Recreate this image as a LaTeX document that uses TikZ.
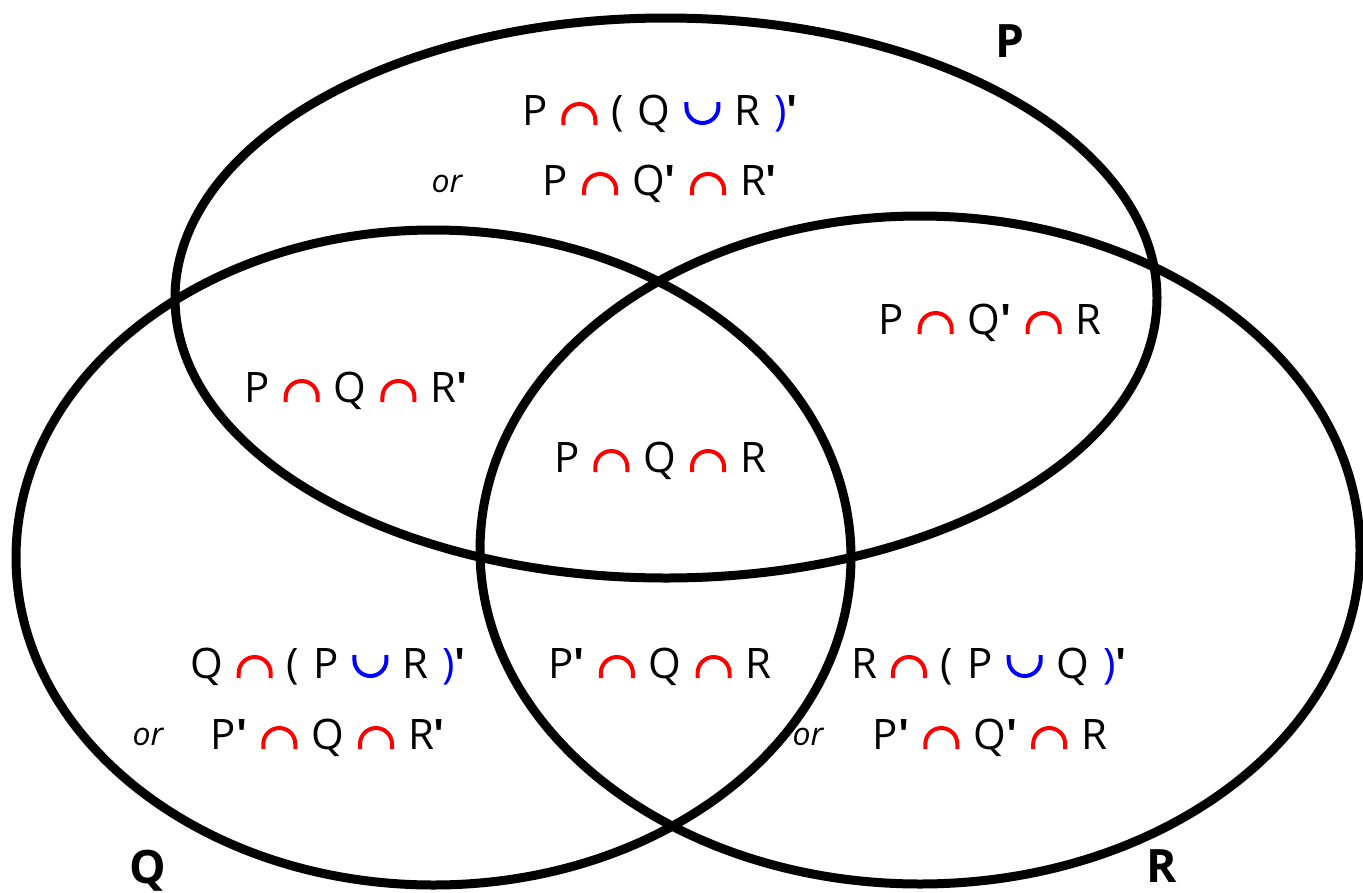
\documentclass[tikz,border=0pt]{standalone}
\usepackage{fontspec}
\setmainfont{Open Sans}
\newcommand\gp{\hspace{14pt}}
\newcommand\archsym[2]{\tikz[baseline=0pt,x=1pt,y=1pt]{\useasboundingbox (0,0) rectangle (36,23);\draw[line width=4pt,#1,line cap=butt] #2;}}
\newcommand\inter{\gp\archsym{red}{(2,0) -- (2,5) arc[start angle=180,end angle=0,radius=16] -- (34,0)}\gp}
\newcommand\unio{\gp\archsym{blue}{(2,23) -- (2,18) arc[start angle=180,end angle=360,radius=16] -- (34,23)}\gp}
\newcommand\rpar{\gp{\color{blue})}}
\newcommand\lpar{(\gp}
\newcommand\prm{\textbf{\textquotesingle}}
\begin{document}
\begin{tikzpicture}[x=1pt,y=-1pt,
  setline/.style={line width=9pt},
  lbl/.style={anchor=base,inner sep=0pt,font=\fontsize{42}{46}\selectfont},
  orlbl/.style={anchor=base,inner sep=0pt,font=\fontsize{32}{38}\selectfont\itshape},
  setname/.style={anchor=base,inner sep=0pt,font=\fontsize{46}{50}\selectfont\bfseries}]
\useasboundingbox (0,0) rectangle (1363,892);
\draw[setline] (666,298) ellipse [x radius=491, y radius=280];
\draw[setline] (433.5,557.5) ellipse [x radius=417.5, y radius=327.5];
\draw[setline] (920,550) ellipse [x radius=440, y radius=334];
\node[setname] (nP) at (1010,57) {P};
\node[setname] (nQ) at (148,883) {Q};
\node[setname] (nR) at (1162,882) {R};
\node[lbl] (a1) at (660,125) {P\inter\lpar Q\unio R\rpar\prm};
\node[orlbl] (o1) at (447,192) {or};
\node[lbl] (a2) at (660,195) {P\inter Q\prm\inter R\prm};
\node[lbl] (b) at (990,334) {P\inter Q\prm\inter R};
\node[lbl] (c) at (356,402) {P\inter Q\inter R\prm};
\node[lbl] (d) at (660,472) {P\inter Q\inter R};
\node[lbl] (e1) at (328,678) {Q\inter\lpar P\unio R\rpar\prm};
\node[orlbl] (o2) at (148,745) {or};
\node[lbl] (e2) at (328,749) {P\prm\inter Q\inter R\prm};
\node[lbl] (f) at (660,678) {P\prm\inter Q\inter R};
\node[lbl] (g1) at (989,678) {R\inter\lpar P\unio Q\rpar\prm};
\node[orlbl] (o3) at (808,745) {or};
\node[lbl] (g2) at (990,749) {P\prm\inter Q\prm\inter R};
\end{tikzpicture}
\end{document}
